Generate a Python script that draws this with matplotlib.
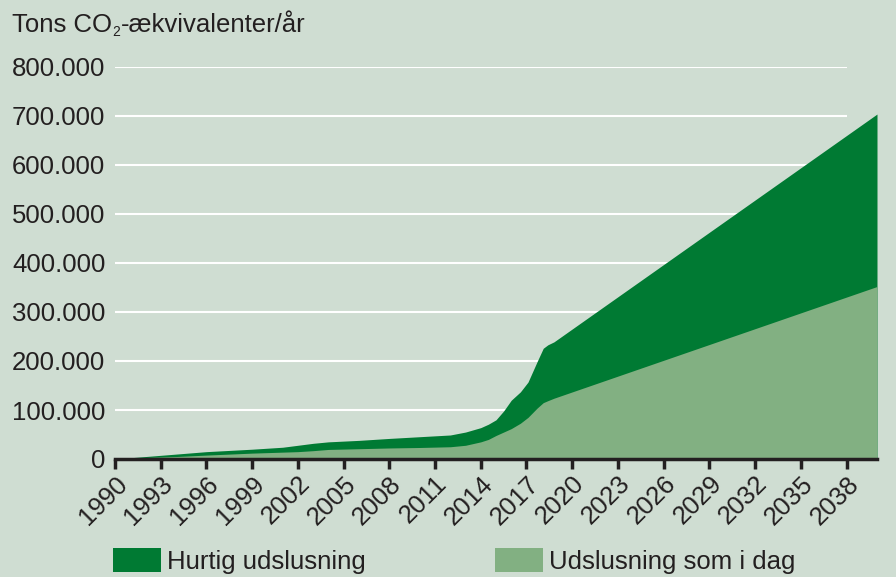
import matplotlib
matplotlib.use("Agg")
import matplotlib.pyplot as plt
from matplotlib.patches import Patch
from matplotlib.ticker import FuncFormatter

plt.rcParams['font.family'] = ['Liberation Sans', 'DejaVu Sans']

years = [1990, 1992, 1994, 1996, 1999, 2001, 2002, 2003, 2004, 2006,
         2008, 2010, 2012, 2013, 2014, 2014.5, 2015, 2015.5, 2016, 2016.6,
         2017.1, 2017.7, 2018.1, 2018.4, 2018.8, 2040]
hurtig = [0, 5000, 10000, 15000, 20000, 24000, 28000, 32000, 35000, 38000,
          42000, 45500, 49000, 55000, 64000, 71000, 80000, 98000, 120000, 137000,
          157000, 199000, 226000, 233000, 239000, 704000]
som_i_dag = [0, 3000, 5000, 8000, 12000, 14000, 15000, 17000, 19500, 21000,
             22500, 23500, 25000, 28000, 35000, 40000, 48000, 55000, 62000, 73000,
             85000, 104000, 115000, 119000, 124000, 352000]
xticks = list(range(1990, 2039, 3))
yticks = [0, 100000, 200000, 300000, 400000, 500000, 600000, 700000, 800000]
title_parts = ["Tons CO", "2", "-ækvivalenter/år"]
labels = ["Hurtig udslusning", "Udslusning som i dag"]

bg = "#cfddd2"
dark = "#007a33"
light = "#82b082"
txt = "#231f20"

fig = plt.figure(figsize=(8.96, 5.77), dpi=100, facecolor=bg)
ax = fig.add_axes([115/896, 1-459/577, (877-115)/896, (459-67)/577])
ax.set_facecolor(bg)

for y in yticks[1:]:
    ax.hlines(y, 1990, 2038, color="white", lw=1.5, zorder=1)

ax.fill_between(years, 0, hurtig, color=dark, lw=0, zorder=2)
ax.fill_between(years, 0, som_i_dag, color=light, lw=0, zorder=3)

ax.set_xlim(1990, 2040)
ax.set_ylim(0, 800000)
for s in ["top", "right", "left"]:
    ax.spines[s].set_visible(False)
ax.spines["bottom"].set_linewidth(2.5)
ax.spines["bottom"].set_color(txt)
ax.spines["bottom"].set_zorder(5)

ax.set_yticks(yticks)
ax.yaxis.set_major_formatter(FuncFormatter(lambda v, p: f"{int(v):,}".replace(",", ".")))
ax.tick_params(axis="y", length=0, pad=7, labelsize=18.5, labelcolor=txt)
ax.set_xticks(xticks)
ax.tick_params(axis="x", length=7, width=2.5, color=txt, direction="out",
               labelsize=18.5, labelcolor=txt, pad=2)
for lab in ax.get_xticklabels():
    lab.set_rotation(45)
    lab.set_ha("right")
    lab.set_va("top")
    lab.set_rotation_mode("anchor")

# Title with small subscript
t1 = fig.text(12/896, 1-32/577, title_parts[0], fontsize=18.5, color=txt,
              va="baseline", ha="left")
fig.canvas.draw()
r = fig.canvas.get_renderer()
bb = t1.get_window_extent(r)
t2 = fig.text((bb.x1 + 0.5)/896, 1-36/577, title_parts[1], fontsize=10,
              color=txt, va="baseline", ha="left")
bb2 = t2.get_window_extent(r)
fig.text((bb2.x1 + 0.5)/896, 1-32/577, title_parts[2], fontsize=18.5, color=txt,
         va="baseline", ha="left")

h1 = Patch(facecolor=dark, edgecolor="none")
h2 = Patch(facecolor=light, edgecolor="none")
for h, l, x in [(h1, labels[0], 113), (h2, labels[1], 495)]:
    fig.legend(handles=[h], labels=[l], loc="lower left",
               bbox_to_anchor=(x/896, 3/577), frameon=False,
               fontsize=18.5, labelcolor=txt, handlelength=1.85,
               handleheight=1.05, handletextpad=0.25, borderpad=0,
               borderaxespad=0)

fig.savefig("out.png", dpi=100, facecolor=bg)
